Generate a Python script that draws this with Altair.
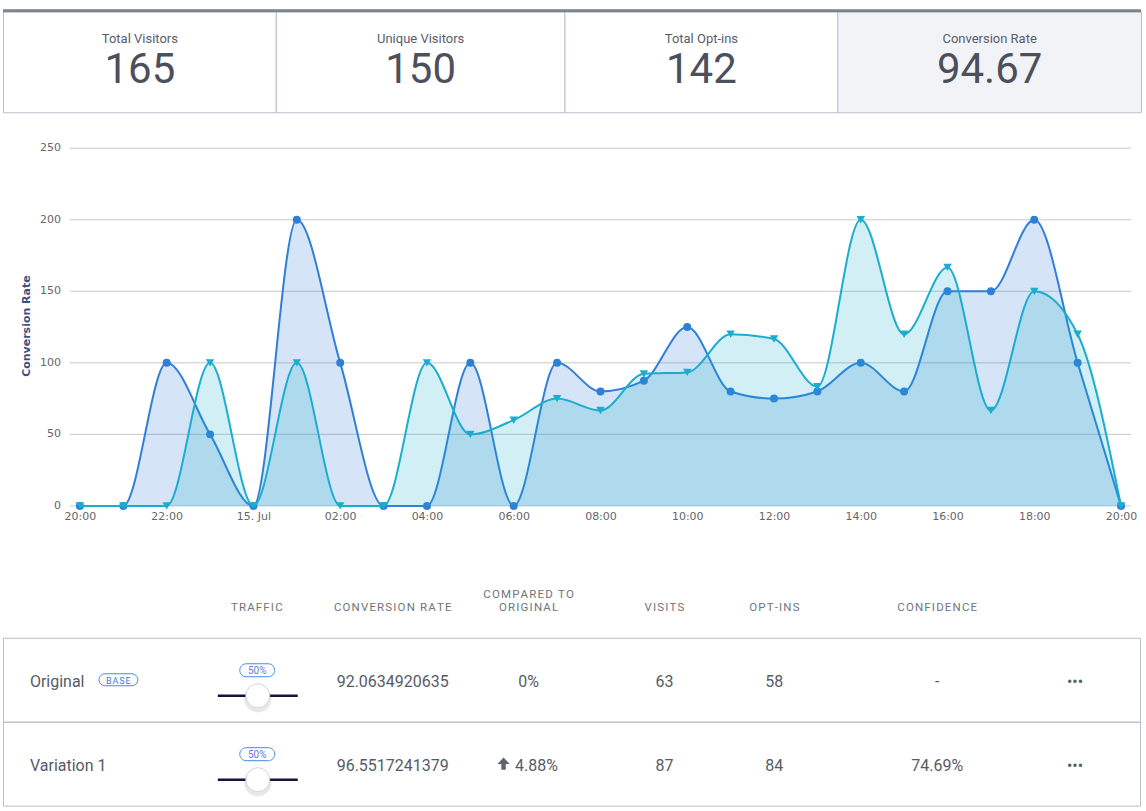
import altair as alt
import pandas as pd

# ---------------------------------------------------------------- data
KPI_TITLES = ["Total Visitors", "Unique Visitors", "Total Opt-ins", "Conversion Rate"]
KPI_VALUES = ["165", "150", "142", "94.67"]

# hourly conversion rate, 14 Jul 20:00 -> 15 Jul 20:00
HOURS = (
    pd.date_range("2023-07-14 20:00", "2023-07-15 20:00", freq="h")
    .strftime("%Y-%m-%dT%H:%M:%S")
    .tolist()
)
ORIGINAL = [0, 0, 100, 50, 0, 200, 100, 0, 0, 100, 0, 100, 80, 87.5, 125,
            80, 75, 80, 100, 80, 150, 150, 200, 100, 0]
VARIATION_1 = [0, 0, 0, 100, 0, 100, 0, 0, 100, 50, 60, 75, 66.67, 92.31, 93.33,
               120, 116.67, 83.33, 200, 120, 166.67, 66.67, 150, 120, 0]
Y_TICKS = [0, 50, 100, 150, 200, 250]
Y_TITLE = "Conversion Rate"

ROW_NAMES = ["Original", "Variation 1"]
BASE_ROW = "Original"
TRAFFIC = ["50%", "50%"]
CONVERSION = ["92.0634920635", "96.5517241379"]
COMPARED = ["0%", "4.88%"]
VISITS = ["63", "87"]
OPT_INS = ["58", "84"]
CONFIDENCE = ["-", "74.69%"]
HEADERS = ["TRAFFIC", "CONVERSION RATE", "COMPARED TO\nORIGINAL", "VISITS", "OPT-INS", "CONFIDENCE"]

# ---------------------------------------------------------------- layout / style
W = 1139
A_H, B_H, C_H = 113, 393, 303
CARD_EDGES = [0, 273, 562, 835, 1139]
X_RANGE = [77, 1119]
Y_RANGE = [393, 35]
COLS = {"traffic": 254, "conv": 390, "comp": 526, "visits": 662,
        "optins": 772, "conf": 935, "menu": 1073}
ROW_TOP, ROW_H = 132, 84
HEAD_BOTTOM, HEAD_LINE = 107, 13

BLUE = "#2f7ed8"
TEAL = "#1aadce"
BORDER = "#b6c1cf"
TEXT = "#565b66"
HEAD = "#70747c"
UI_FONT = "Roboto"
CHART_FONT = "DejaVu Sans"


def spaced(s):
    return "\n".join("\u200a".join(line) for line in s.split("\n"))


def px_scale(n, off=0.0):
    return alt.Scale(domain=[0, n], range=[off, n + off], nice=False, zero=False)


# ---------------------------------------------------------------- KPI strip
cards = pd.DataFrame({
    "title": KPI_TITLES,
    "value": KPI_VALUES,
    "x0": CARD_EDGES[:-1],
    "x1": CARD_EDGES[1:],
    "active": [False, False, False, True],
})
cards["xc"] = (cards["x0"] + cards["x1"]) / 2
PXA = px_scale(W, 0.5)

boxes = alt.Chart(cards).mark_rect(stroke=BORDER, strokeWidth=1).encode(
    x=alt.X("x0:Q", scale=PXA, axis=None),
    x2="x1:Q",
    y=alt.value(11.5),
    y2=alt.value(112.5),
    fill=alt.condition("datum.active", alt.value("#f2f3f7"), alt.value("#ffffff")),
)
top_bar = alt.Chart(pd.DataFrame({"k": [0]})).mark_rect(color="#7d838d").encode(
    x=alt.value(0), x2=alt.value(W), y=alt.value(9), y2=alt.value(12)
)
kpi_titles = alt.Chart(cards).mark_text(
    font=UI_FONT, fontSize=13, color="#575d69", baseline="alphabetic"
).encode(x=alt.X("xc:Q", scale=PXA, axis=None), y=alt.value(43), text="title:N")
kpi_values = alt.Chart(cards).mark_text(
    font=UI_FONT, fontSize=42, color="#4b505b", baseline="alphabetic"
).encode(x=alt.X("xc:Q", scale=PXA, axis=None), y=alt.value(83), text="value:N")

panel_a = alt.layer(boxes, top_bar, kpi_titles, kpi_values).properties(width=W, height=A_H)

# ---------------------------------------------------------------- area chart
df_o = pd.DataFrame({"time": HOURS, "value": ORIGINAL})
df_v = pd.DataFrame({"time": HOURS, "value": VARIATION_1})


def dt(s):
    t = pd.Timestamp(s)
    return alt.DateTime(year=t.year, month=t.month, date=t.day, hours=t.hour)


xs = alt.Scale(domain=[dt(HOURS[0]), dt(HOURS[-1])], range=X_RANGE, nice=False)
ys = alt.Scale(domain=[Y_TICKS[0], Y_TICKS[-1]], range=Y_RANGE, nice=False)
x_axis = alt.Axis(
    values=[dt(h) for h in HOURS[::2]],
    labelExpr="hours(datum.value) == 0 ? '15. Jul' : timeFormat(datum.value, '%H:%M')",
    domain=False, ticks=False, grid=False,
    labelFont=CHART_FONT, labelFontSize=11, labelColor="#666666",
    labelPadding=5, labelFlush=False, labelOverlap=False, labelBound=False,
)
X = alt.X("time:T", scale=xs, axis=x_axis, title=None)
Y = alt.Y("value:Q", scale=ys, axis=None)

ticks = pd.DataFrame({"tick": Y_TICKS})
grid = alt.Chart(ticks).mark_rule(strokeWidth=1).encode(
    y=alt.Y("tick:Q", scale=ys, axis=None),
    x=alt.value(67), x2=alt.value(1129),
    color=alt.condition("datum.tick == 0", alt.value("#c0d0e0"), alt.value("#c8c8c8")),
)
y_labels = alt.Chart(ticks).mark_text(
    align="right", baseline="middle", font=CHART_FONT, fontSize=11, color="#666666"
).encode(y=alt.Y("tick:Q", scale=ys, axis=None), x=alt.value(58), text="tick:Q")
y_title = alt.Chart(pd.DataFrame({"t": [Y_TITLE]})).mark_text(
    angle=270, font=CHART_FONT, fontSize=11, fontWeight="bold", color="#3f5183",
    baseline="middle",
).encode(x=alt.value(24), y=alt.value(213), text="t:N")


def series_layers(df, color, shape, size):
    area = alt.Chart(df).mark_area(interpolate="monotone", color=color, fillOpacity=0.2).encode(x=X, y=Y)
    line = alt.Chart(df).mark_line(interpolate="monotone", color=color, strokeWidth=2).encode(x=X, y=Y)
    pts = alt.Chart(df).mark_point(shape=shape, filled=True, size=size, color=color, opacity=1).encode(x=X, y=Y)
    return [area, line, pts]


panel_b = alt.layer(
    grid, y_labels, y_title,
    *series_layers(df_o, BLUE, "circle", 64),
    *series_layers(df_v, TEAL, "triangle-down", 72),
).properties(width=W, height=B_H)

# ---------------------------------------------------------------- variation table
PXC = px_scale(W)
PYC = px_scale(C_H)

col_keys = ["traffic", "conv", "comp", "visits", "optins", "conf"]
headers = pd.DataFrame({"text": [spaced(h) for h in HEADERS], "x": [COLS[k] for k in col_keys]})
headers["y"] = [HEAD_BOTTOM - HEAD_LINE * h.count("\n") for h in HEADERS]
head_layer = alt.Chart(headers).mark_text(
    font=UI_FONT, fontSize=11.5, color=HEAD, baseline="bottom", lineBreak="\n", lineHeight=HEAD_LINE
).encode(
    x=alt.X("x:Q", scale=PXC, axis=None),
    y=alt.Y("y:Q", scale=PYC, axis=None),
    text="text:N",
)

rows = pd.DataFrame({"name": ROW_NAMES})
rows["yc"] = [ROW_TOP + ROW_H * (i + 0.5) for i in range(len(ROW_NAMES))]
rows["yt"] = rows["yc"] + 2.5
rows["y0"] = [ROW_TOP + ROW_H * i + 0.5 for i in range(len(ROW_NAMES))]
rows["y1"] = rows["y0"] + ROW_H
rows["up"] = [float(c.rstrip("%")) > 0 for c in COMPARED]

cells = []
for i, r in rows.iterrows():
    yt = r["yt"]
    cells += [
        {"x": COLS["conv"], "y": yt, "text": CONVERSION[i]},
        {"x": COLS["comp"] + (8 if r["up"] else 0), "y": yt, "text": COMPARED[i]},
        {"x": COLS["visits"], "y": yt, "text": VISITS[i]},
        {"x": COLS["optins"], "y": yt, "text": OPT_INS[i]},
        {"x": COLS["conf"], "y": yt, "text": CONFIDENCE[i]},
        {"x": COLS["menu"], "y": yt, "text": "•••"},
    ]
cells = pd.DataFrame(cells)

row_boxes = alt.Chart(rows).mark_rect(fillOpacity=0, stroke=BORDER, strokeWidth=1).encode(
    x=alt.value(0.5), x2=alt.value(W - 0.5),
    y=alt.Y("y0:Q", scale=PYC, axis=None), y2="y1:Q",
)
names = alt.Chart(rows).mark_text(
    font=UI_FONT, fontSize=16, color=TEXT, align="left", baseline="middle"
).encode(x=alt.value(27), y=alt.Y("yt:Q", scale=PYC, axis=None), text="name:N")
cell_text = alt.Chart(cells).mark_text(
    font=UI_FONT, fontSize=16, color=TEXT, baseline="middle"
).encode(
    x=alt.X("x:Q", scale=PXC, axis=None),
    y=alt.Y("y:Q", scale=PYC, axis=None),
    text="text:N",
)

base_rows = rows[rows["name"] == BASE_ROW].copy()
base_rows["bx0"], base_rows["bx1"] = 96, 135
base_rows["by0"], base_rows["by1"] = base_rows["yc"] - 6, base_rows["yc"] + 6
base_rows["label"] = spaced("BASE")
base_box = alt.Chart(base_rows).mark_rect(
    cornerRadius=6, fill="#ffffff", stroke="#3d8ee3", strokeWidth=1
).encode(
    x=alt.X("bx0:Q", scale=PXC, axis=None), x2="bx1:Q",
    y=alt.Y("by0:Q", scale=PYC, axis=None), y2="by1:Q",
)
base_text = alt.Chart(base_rows).transform_calculate(
    bx="(datum.bx0 + datum.bx1) / 2", by="datum.yc + 1"
).mark_text(font=UI_FONT, fontSize=9, color="#3b7bd6", baseline="middle").encode(
    x=alt.X("bx:Q", scale=PXC, axis=None), y=alt.Y("by:Q", scale=PYC, axis=None), text="label:N"
)

traffic = rows.copy()
traffic["pct"] = TRAFFIC
traffic["tx0"], traffic["tx1"] = 237, 272
traffic["ty0"], traffic["ty1"] = traffic["yc"] - 16, traffic["yc"] - 3
traffic["tc"] = traffic["yc"] - 9
traffic["sx0"], traffic["sx1"] = 215, 295
traffic["sy"] = traffic["yc"] + 16
traffic["kx"] = 255

pct_box = alt.Chart(traffic).mark_rect(
    cornerRadius=7, fill="#ffffff", stroke="#3d8ee3", strokeWidth=1
).encode(
    x=alt.X("tx0:Q", scale=PXC, axis=None), x2="tx1:Q",
    y=alt.Y("ty0:Q", scale=PYC, axis=None), y2="ty1:Q",
)
pct_text = alt.Chart(traffic).transform_calculate(
    tx="(datum.tx0 + datum.tx1) / 2"
).mark_text(font=UI_FONT, fontSize=10, color="#6b76e0", baseline="middle").encode(
    x=alt.X("tx:Q", scale=PXC, axis=None), y=alt.Y("tc:Q", scale=PYC, axis=None), text="pct:N"
)
slider = alt.Chart(traffic).mark_rule(color="#14143a", strokeWidth=2.5).encode(
    x=alt.X("sx0:Q", scale=PXC, axis=None), x2="sx1:Q",
    y=alt.Y("sy:Q", scale=PYC, axis=None),
)
knob_shadow = alt.Chart(traffic).mark_circle(
    size=750, color="#000000", opacity=0.09, yOffset=3
).encode(x=alt.X("kx:Q", scale=PXC, axis=None), y=alt.Y("sy:Q", scale=PYC, axis=None))
knob = alt.Chart(traffic).mark_circle(
    size=576, fill="#ffffff", stroke="#cfd4dc", strokeWidth=1, opacity=1
).encode(x=alt.X("kx:Q", scale=PXC, axis=None), y=alt.Y("sy:Q", scale=PYC, axis=None))

ups = rows[rows["up"]].copy()
ups["ax"] = COLS["comp"] - 25
arrow = alt.Chart(ups).mark_point(
    shape="M0,-1L1,0.05L0.36,0.05L0.36,1L-0.36,1L-0.36,0.05L-1,0.05Z",
    filled=True, size=150, color="#5d646e", opacity=1,
).encode(x=alt.X("ax:Q", scale=PXC, axis=None), y=alt.Y("yc:Q", scale=PYC, axis=None))

panel_c = alt.layer(
    row_boxes, head_layer, names, cell_text, base_box, base_text,
    pct_box, pct_text, slider, knob_shadow, knob, arrow,
).properties(width=W, height=C_H)

# ---------------------------------------------------------------- page
chart = (
    alt.vconcat(panel_a, panel_b, panel_c, spacing=0, bounds="flush")
    .properties(padding={"left": 3, "top": 0, "right": 4, "bottom": 0}, background="#ffffff")
    .configure_view(stroke=None)
)

chart.save("out.html", embed_options={"renderer": "svg", "actions": False})
